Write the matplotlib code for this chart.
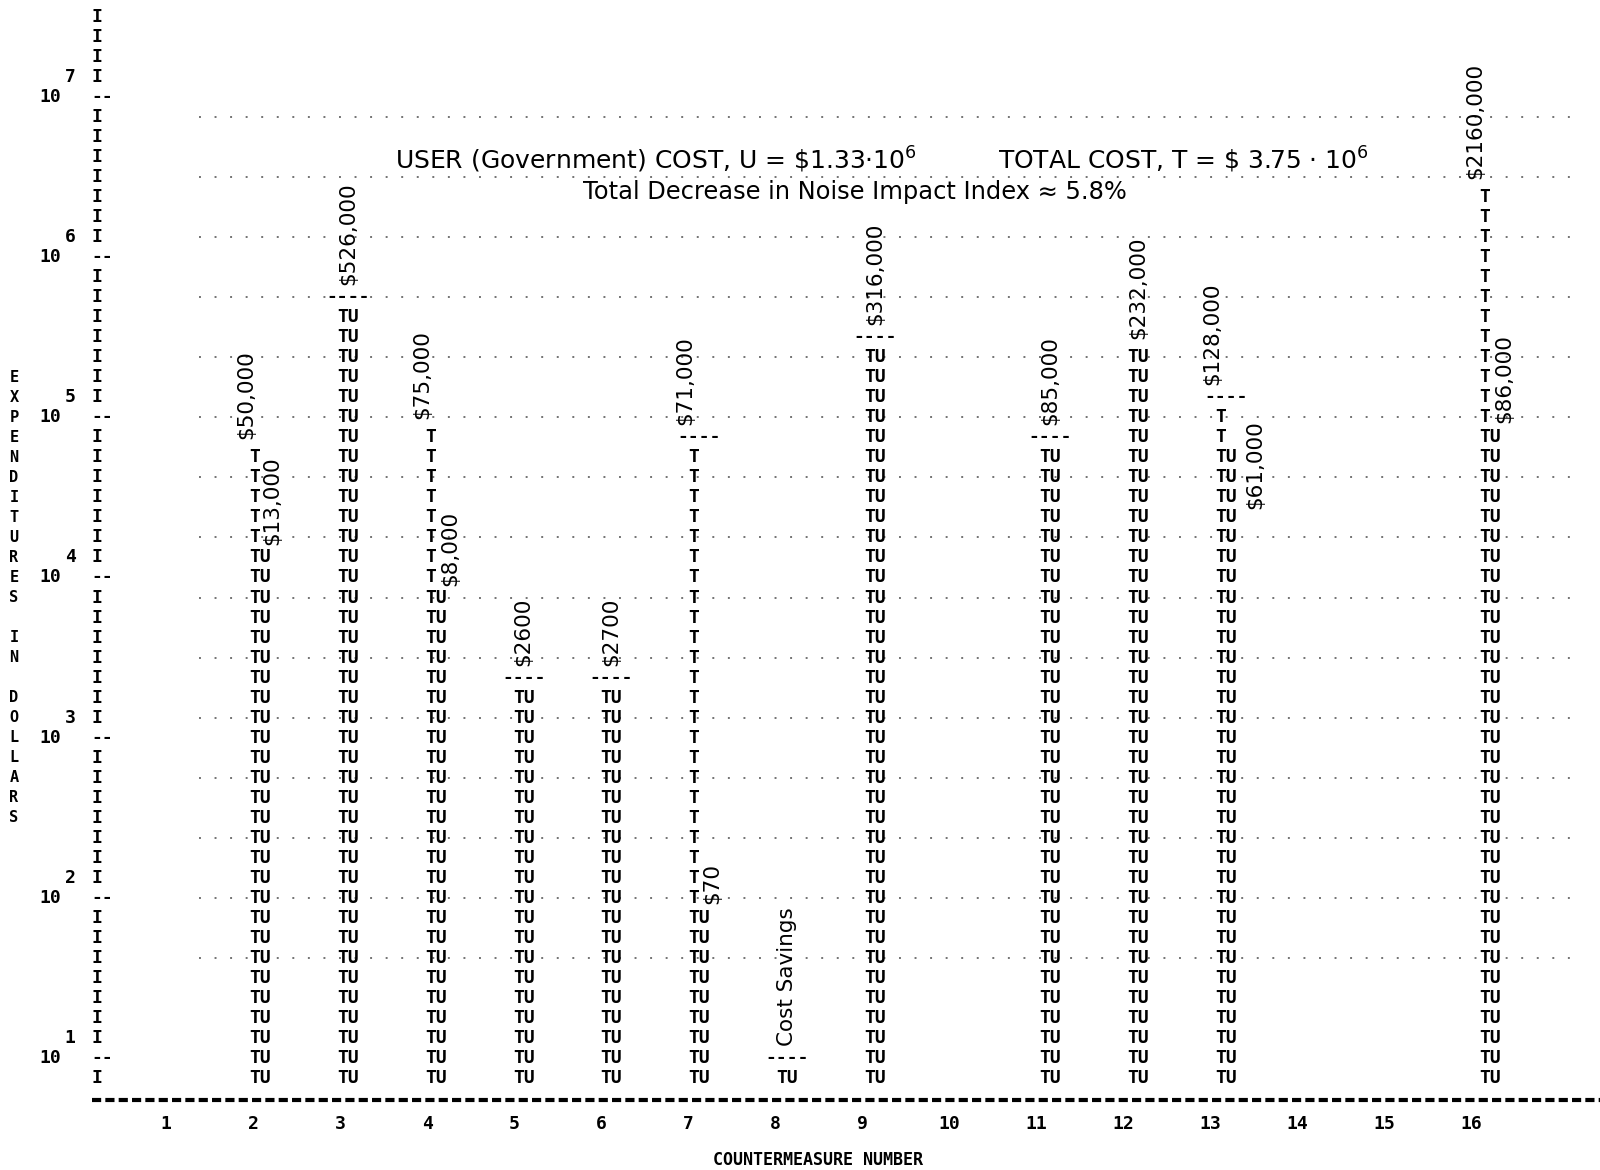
#Line-printer style cost chart for the countermeasures


import numpy as np
import matplotlib
matplotlib.use("Agg")
import matplotlib.pyplot as plt
from matplotlib import font_manager


# countermeasure number, total cost T and user cost U in dollars
# (measure 8 is a cost saving, printed on the lowest row)
measures = [2, 3, 4, 5, 6, 7, 8, 9, 11, 12, 13, 16]
total_cost = [50000, 526000, 75000, 2600, 2700, 71000, 10, 316000, 85000, 232000, 128000, 2160000]
user_cost = [13000, 526000, 8000, 2600, 2700, 70, 10, 316000, 85000, 232000, 61000, 86000]
total_labels = ["$50,000", "$526,000", "$75,000", "$2600", "$2700", "$71,000", "Cost Savings",
                "$316,000", "$85,000", "$232,000", "$128,000", "$2160,000"]
user_labels = ["$13,000", "", "$8,000", "", "", "$70", "", "", "", "", "$61,000", "$86,000"]
capped = [False, True, False, True, True, True, True, True, True, False, True, False]

x_ticks = list(range(1, 17))
decades = [1, 2, 3, 4, 5, 6, 7]
ylabel = "EXPENDITURES IN DOLLARS"
xlabel = "COUNTERMEASURE NUMBER"
user_title = r"USER (Government) COST, U = \$1.33$\cdot$10$^6$"
total_title = r"TOTAL COST, T = \$ 3.75 $\cdot$ 10$^6$"
index_title = "Total Decrease in Noise Impact Index \u2248 5.8%"

# style
mono = "DejaVu Sans Mono"
names = {f.name for f in font_manager.fontManager.ttflist}
if "Liberation Sans Narrow" in names:
    sans, lab_size, title_size = "Liberation Sans Narrow", 20, 23
else:
    sans, lab_size, title_size = "DejaVu Sans", 15.5, 18
psize = 13
cw = 0.602 * psize / 72 * 100 / 87.83   # width of one printer character in x units

# per column nudges of the user cost label (x units, rows)
u_dx = [0.14, 0, 0.17, 0, 0, 0.15, 0, 0, 0, 0, 0.33, 0.17]
u_dr = [0.6, 0, 0.6, 0, 0, 0.7, 0, 0, 0, 0, -2.6, 0.7]


def ry(r):
    # printer rows: eight lines per decade
    return 10 ** (r / 8.0)


def pr(ax, x, r, s, size=psize, ha="center"):
    ax.text(x, ry(r), s, fontsize=size, family=mono, weight="bold",
            ha=ha, va="center", color="black")


fig = plt.figure(figsize=(16, 11.7), dpi=100)
ax = fig.add_axes([0, 0, 1, 1])
ax.set_yscale("log")
ax.set_xlim(-0.962, 17.255)
ax.set_ylim(10 ** 0.3007, 10 ** 7.6056)
ax.axis("off")

# faint dotted guide lines of the print-out
for r in range(13, 56, 3):
    ax.plot([1.3, 17.0], [ry(r), ry(r)], ls=(0, (1, 7)), lw=1.4, color="black", alpha=0.55)

# left axis: column of I with -- at each decade
axis_x = 0.142
for r in range(7, 61):
    if r % 8 == 0:
        pr(ax, axis_x - cw / 2, r, "--", ha="left")
    else:
        pr(ax, axis_x, r, "I")
for k in decades:
    pr(ax, -0.393, 8 * k, "10")
    pr(ax, -0.165, 8 * k + 1, str(k))

# stacked axis title
r = 42
for ch in ylabel:
    if ch != " ":
        pr(ax, -0.802, r, ch, size=11)
    r -= 1

# bottom axis and tick numbers (the printer spaced these a bit tighter)
ax.plot([axis_x - cw / 2, 17.3], [ry(5.9), ry(5.9)], color="black", lw=3,
        ls=(0, (2.2, 1.0)))
for n in x_ticks:
    pr(ax, -0.061 + 0.9907 * n, 4.7, str(n))
pr(ax, 8.35, 2.9, xlabel, size=12)

# the columns: TU rows up to U, T rows up to T
for i, n in enumerate(measures):
    t_row = int(np.round(8 * np.log10(total_cost[i])))
    u_row = int(np.round(8 * np.log10(user_cost[i])))
    top = t_row - 1 if capped[i] else t_row
    for r in range(7, top + 1):
        if r <= u_row:
            pr(ax, n, r, "TU")
        else:
            pr(ax, n - cw / 2, r, "T")
    if capped[i]:
        pr(ax, n, t_row, "----")
    split = user_cost[i] < total_cost[i]
    tx = n - 0.16 if split else n
    ty = t_row + (0.6 if capped[i] else 0.9)
    ax.text(tx, ry(ty), total_labels[i], rotation=90, ha="center", va="bottom",
            fontsize=lab_size, family=[sans, "DejaVu Sans"])
    if user_labels[i]:
        ax.text(n + u_dx[i], ry(u_row + u_dr[i]), user_labels[i], rotation=90,
                ha="center", va="bottom", fontsize=lab_size, family=[sans, "DejaVu Sans"])

# headings
ax.text(3.54, ry(52.85), user_title, fontsize=title_size, family=[sans, "DejaVu Sans"],
        ha="left", va="center")
ax.text(10.40, ry(52.85), total_title, fontsize=title_size, family=[sans, "DejaVu Sans"],
        ha="left", va="center")
ax.text(5.675, ry(51.26), index_title, fontsize=title_size - 0.6, family=[sans, "DejaVu Sans"],
        ha="left", va="center")

fig.savefig("out.png", dpi=100, facecolor="white")
